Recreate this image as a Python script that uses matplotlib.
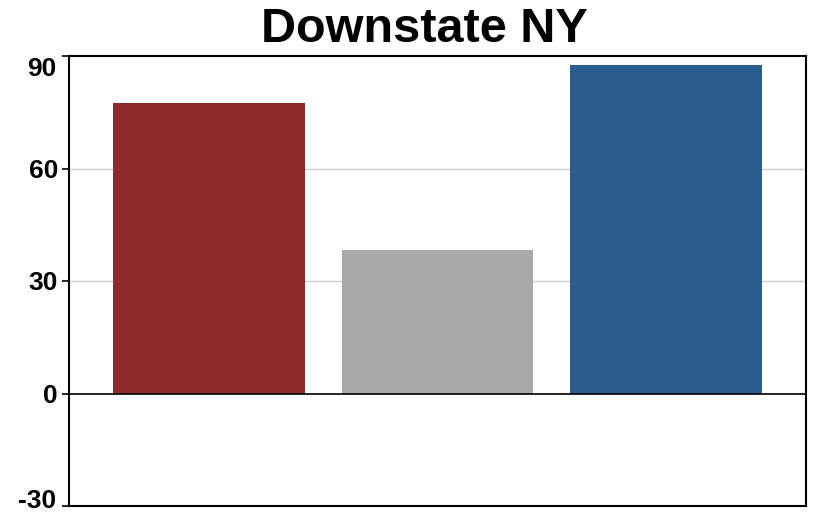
import matplotlib
matplotlib.use("Agg")
import matplotlib.pyplot as plt
import matplotlib.transforms as mtransforms

categories = ["Republican", "Other", "Democrat"]
values = [77.5, 38.3, 87.6]
colors = ["#8B2A2B", "#A9A9A9", "#2B5C8E"]
yticks = [-30, 0, 30, 60, 90]
title = "Downstate NY"

plt.rcParams['font.family'] = ['Liberation Sans', 'DejaVu Sans']

fig = plt.figure(figsize=(8.13, 5.13), dpi=100)
ax = fig.add_axes([69/813, (513-506)/513, (806-69)/813, (506-56)/513])

x = list(range(len(categories)))
ax.bar(x, values, width=0.84, color=colors, zorder=3)
ax.set_xlim(-0.613, 2.613)
ax.set_ylim(-30, 90)
ax.set_xticks([])
ax.set_yticks(yticks)
lbls = [str(t) for t in yticks]
ax.set_yticklabels(['' if t in (-30, 90) else l for t, l in zip(yticks, lbls)],
                   fontsize=19, fontweight='bold')
ax.tick_params(axis='y', length=5, width=1.2, pad=3)

trans = mtransforms.blended_transform_factory(ax.transAxes, ax.transData)
off_lo = mtransforms.ScaledTranslation(0, 4.5/100, fig.dpi_scale_trans)
off_hi = mtransforms.ScaledTranslation(0, -13.5/100, fig.dpi_scale_trans)
xlab = -(69-56)/(806-69)
ax.text(xlab, yticks[0], lbls[0], transform=trans + off_lo, ha='right', va='center',
        fontsize=19, fontweight='bold')
ax.text(xlab, yticks[-1], lbls[-1], transform=trans + off_hi, ha='right', va='center',
        fontsize=19, fontweight='bold')

for t in [30, 60]:
    ax.axhline(t, color='#cccccc', lw=1, zorder=1)
ax.axhline(0, color='black', lw=1.2, zorder=4)
for s in ax.spines.values():
    s.set_linewidth(1.5)
    s.set_color('black')

fig.text(424.5/813, 1 - 30/513, title, ha='center', va='center',
         fontsize=35, fontweight='bold')

fig.savefig("out.png", dpi=100)
